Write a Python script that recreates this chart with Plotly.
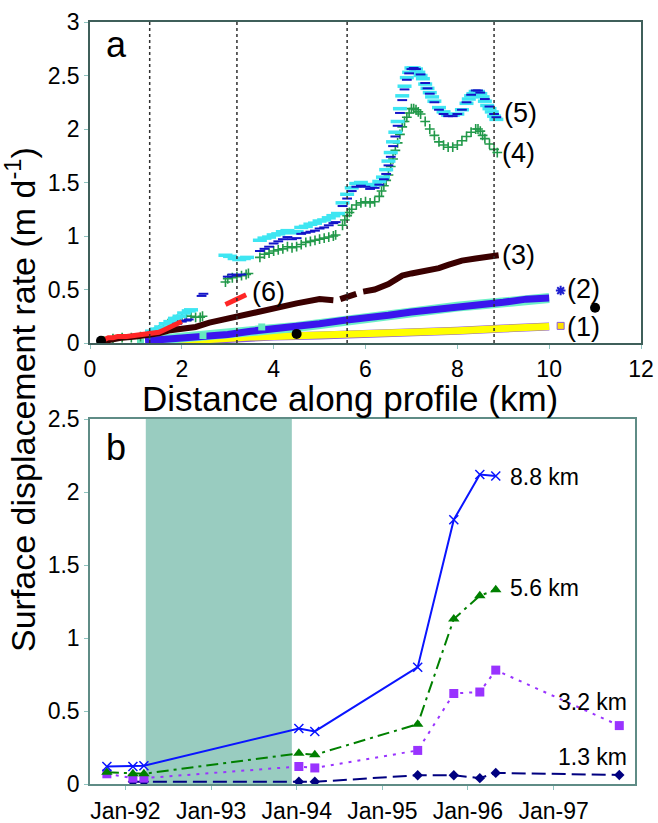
import plotly.graph_objects as go

# ---------------- Panel a : rate along profile ----------------
profile_km = [1.3, 3.2, 5.6, 8.8]

# (1) yellow band
s1_x = [1.3, 2.0, 2.5, 3.0, 3.5, 4.0, 5.0, 6.0, 7.0, 8.0, 9.0, 10.0]
s1_y = [0.0, 0.02, 0.03, 0.045, 0.055, 0.06, 0.07, 0.08, 0.10, 0.115, 0.135, 0.155]
s1_end_x = [10.25]
s1_end_y = [0.16]

# (2) blue band
s2_x = [1.2, 1.5, 2.0, 2.5, 3.0, 3.5, 4.0, 4.5, 5.0, 5.5, 6.0, 6.5, 7.0, 7.5, 8.0, 8.5, 9.0, 9.5, 10.0]
s2_y = [0.02, 0.03, 0.04, 0.06, 0.08, 0.11, 0.13, 0.15, 0.18, 0.21, 0.23, 0.26, 0.29, 0.31, 0.34, 0.36, 0.38, 0.41, 0.42]
s2_end_x = [10.25]
s2_end_y = [0.49]

# (3) dark brown
s3_x = [0.2, 0.4, 0.7, 1.0, 1.3, 1.5, 1.75, 2.0, 2.3, 2.6, 3.0, 3.5, 4.0, 4.5, 5.0, 5.3, None,
        5.45, 5.8, None,
        5.95, 6.2, 6.5, 6.8, 7.0, 7.3, 7.6, 7.8, 8.1, 8.4, 8.7, 8.9]
s3_y = [0.01, 0.03, 0.05, 0.06, 0.07, 0.09, 0.12, 0.14, 0.15, 0.19, 0.23, 0.28, 0.32, 0.37, 0.41, 0.40, None,
        0.41, 0.46, None,
        0.48, 0.50, 0.55, 0.63, 0.65, 0.67, 0.70, 0.73, 0.77, 0.79, 0.81, 0.82]

# (4) green crosses
s4_x = [0.3, 0.5, 0.7, 0.9, 1.1, 1.3, 1.4, 1.5, 1.6, 1.7, 1.8, 1.9, 2.0, 2.1, 2.2, 2.3, 2.4, 2.45,
        2.95, 3.0, 3.1, 3.2, 3.3, 3.4, 3.45,
        3.7, 3.8, 3.9, 4.0, 4.1, 4.2, 4.3, 4.4, 4.5, 4.6, 4.7, 4.8, 4.9, 5.0, 5.1, 5.2, 5.3, 5.35,
        5.5, 5.55, 5.6, 5.65, 5.7, 5.8, 5.9, 6.0, 6.1, 6.2, 6.3, 6.35, 6.4, 6.45, 6.5, 6.55, 6.6,
        6.65, 6.7, 6.75, 6.8, 6.85, 6.9, 6.95, 7.0, 7.05, 7.1, 7.15, 7.2, 7.3, 7.4, 7.5, 7.6, 7.7,
        7.8, 7.9, 8.0, 8.1, 8.2, 8.3, 8.4, 8.45, 8.5, 8.55, 8.6, 8.7, 8.8, 8.87]
s4_y = [0.02, 0.04, 0.05, 0.05, 0.06, 0.08, 0.10, 0.12, 0.15, 0.18, 0.20, 0.22, 0.24, 0.25, 0.25, 0.24, 0.24, 0.25,
        0.57, 0.60, 0.61, 0.62, 0.63, 0.64, 0.65,
        0.80, 0.83, 0.84, 0.86, 0.87, 0.88, 0.90, 0.89, 0.90, 0.92, 0.94, 0.95, 0.96, 0.97, 0.98, 0.99, 1.00, 1.01,
        1.10, 1.15, 1.19, 1.22, 1.25, 1.29, 1.31, 1.32, 1.31, 1.32, 1.37, 1.42, 1.47, 1.52, 1.57, 1.65, 1.72,
        1.80, 1.87, 1.95, 2.02, 2.07, 2.11, 2.15, 2.19, 2.19, 2.18, 2.16, 2.14, 2.07, 2.00, 1.94, 1.88, 1.85,
        1.83, 1.83, 1.85, 1.89, 1.93, 1.97, 2.00, 2.00, 1.98, 1.94, 1.91, 1.86, 1.81, 1.78]

# (5) cyan dashes
s5c_x = [1.35, 1.45, 1.55, 1.65, 1.75, 1.85, 1.95, 2.05, 2.15, 2.2,
         2.95, 3.05, 3.15, 3.25, 3.35, 3.42,
         3.7, 3.8, 3.9, 4.0, 4.1, 4.2, 4.3, 4.4, 4.5, 4.6, 4.7, 4.8, 4.9, 5.0, 5.1, 5.2, 5.3, 5.4,
         5.5, 5.6, 5.7, 5.8, 5.9, 6.0, 6.1, 6.2, 6.3, 6.38, 6.45, 6.5, 6.55, 6.6, 6.65, 6.7, 6.75,
         6.8, 6.85, 6.9, 6.95, 7.0, 7.05, 7.1, 7.15, 7.2, 7.25, 7.3, 7.35, 7.4, 7.45, 7.5, 7.6, 7.7,
         7.8, 7.9, 8.0, 8.1, 8.2, 8.25, 8.3, 8.35, 8.4, 8.45, 8.5, 8.55, 8.6, 8.65, 8.7, 8.75, 8.8, 8.85]
s5c_y = [0.11, 0.13, 0.15, 0.18, 0.20, 0.23, 0.25, 0.28, 0.30, 0.31,
         0.82, 0.81, 0.79, 0.78, 0.79, 0.80,
         0.96, 0.98, 0.99, 1.01, 1.02, 1.04, 1.05, 1.03, 1.04, 1.08, 1.09, 1.11, 1.12, 1.14, 1.15, 1.17, 1.19, 1.21,
         1.31, 1.39, 1.45, 1.49, 1.50, 1.48, 1.47, 1.48, 1.51, 1.55, 1.62, 1.70, 1.78, 1.88, 1.97, 2.07, 2.19,
         2.31, 2.40, 2.48, 2.53, 2.57, 2.57, 2.56, 2.53, 2.50, 2.47, 2.42, 2.38, 2.34, 2.30, 2.26, 2.20, 2.16,
         2.13, 2.13, 2.14, 2.18, 2.24, 2.28, 2.31, 2.33, 2.35, 2.35, 2.33, 2.30, 2.26, 2.22, 2.19, 2.16, 2.12, 2.09]

# (5) blue dashes
s5b_x = [1.7, 1.8, 1.9, 2.0, 2.1, 2.15, 2.43, 2.47,
         3.0, 3.1, 3.2, 3.3,
         3.7, 3.8, 3.9, 4.0, 4.1, 4.2, 4.3, 4.4, 4.5, 4.6, 4.7, 4.8, 4.9, 5.0, 5.1, 5.2, 5.3, 5.35,
         5.5, 5.6, 5.7, 5.8, 5.9, 6.0, 6.1, 6.2, 6.3, 6.4, 6.45, 6.5, 6.55, 6.6, 6.65, 6.7, 6.75,
         6.8, 6.85, 6.9, 6.95, 7.0, 7.05, 7.1, 7.2, 7.3, 7.35, 7.4, 7.5, 7.6, 7.7, 7.8, 7.9, 8.0,
         8.1, 8.2, 8.3, 8.4, 8.45, 8.5, 8.6, 8.7, 8.8, 8.85]
s5b_y = [0.13, 0.15, 0.18, 0.20, 0.21, 0.22, 0.44, 0.46,
         0.62, 0.64, 0.63, 0.64,
         0.86, 0.88, 0.90, 0.93, 0.95, 0.97, 0.99, 0.97, 0.98, 1.02, 1.03, 1.04, 1.05, 1.07, 1.08, 1.10, 1.12, 1.13,
         1.28, 1.35, 1.42, 1.46, 1.47, 1.46, 1.44, 1.45, 1.48, 1.53, 1.58, 1.66, 1.74, 1.84, 1.93, 2.03, 2.15,
         2.27, 2.37, 2.46, 2.52, 2.56, 2.57, 2.56, 2.51, 2.43, 2.38, 2.33, 2.25, 2.18, 2.14, 2.12, 2.12, 2.14,
         2.18, 2.25, 2.32, 2.36, 2.36, 2.34, 2.28, 2.21, 2.14, 2.11]

# (6) red
s6_x = [0.3, 0.4, 0.5, 0.6, 0.8, 1.0, 1.2, 1.4, 1.5, 1.6, 1.7, 1.8, 1.9, 2.0, None, 2.95, 3.1, 3.25, 3.4]
s6_y = [0.03, 0.05, 0.05, 0.06, 0.06, 0.07, 0.08, 0.09, 0.10, 0.12, 0.14, 0.16, 0.18, 0.20, None, 0.36, 0.39, 0.42, 0.45]

aqua_x = [0.3, 1.1, 2.46, 3.74]
aqua_y = [0.01, 0.01, 0.07, 0.15]
black_x = [0.24, 4.5, 11.0]
black_y = [0.02, 0.085, 0.33]

curve_labels = ["(1)", "(2)", "(3)", "(4)", "(5)", "(6)"]
curve_label_x = [10.35, 10.35, 8.93, 8.93, 8.98, 3.49]
curve_label_y = [0.15, 0.505, 0.82, 1.78, 2.15, 0.48]

# ---------------- Panel b : rate through time ----------------
dates = ['1991-10-14', '1992-02-02', '1992-03-20', '1994-01-10', '1994-03-19',
         '1995-06-01', '1995-11-02', '1996-02-21', '1996-04-29', '1997-10-08']
v_88 = [0.12, 0.12, 0.125, 0.38, 0.36, 0.80, 1.81, 2.12, 2.11, None]
v_56 = [0.08, 0.07, 0.07, 0.21, 0.20, 0.41, 1.13, 1.29, 1.33, None]
v_32 = [0.07, 0.04, 0.04, 0.12, 0.11, 0.23, 0.62, 0.63, 0.78, 0.40]
v_13 = [None, 0.015, 0.015, 0.015, 0.015, 0.06, 0.06, 0.04, 0.076, 0.062]
shade_start, shade_end = '1992-03-28', '1993-12-11'
year_ticks = ['1992-01-01', '1993-01-01', '1994-01-01', '1995-01-01', '1996-01-01', '1997-01-01']
year_labels = ['Jan-92', 'Jan-93', 'Jan-94', 'Jan-95', 'Jan-96', 'Jan-97']

W, H = 658, 823
FONT = "Liberation Sans, Arial, sans-serif"

fig = go.Figure()

def add_a(**kw):
    fig.add_trace(go.Scatter(xaxis='x', yaxis='y', showlegend=False, hoverinfo='skip', **kw))

# series 1 (purple rim + yellow)
add_a(x=s1_x, y=s1_y, mode='lines', line=dict(color='#8c5cd8', width=8))
add_a(x=s1_x, y=s1_y, mode='lines', line=dict(color='#ffff00', width=7))
add_a(x=s1_end_x, y=s1_end_y, mode='markers',
      marker=dict(symbol='square', size=7, color='#ffe000', line=dict(color='#8c5cd8', width=1)))
# series 2 (aquamarine rim + blue)
add_a(x=s2_x, y=s2_y, mode='lines', line=dict(color='#6ff0c8', width=10))
add_a(x=s2_x, y=s2_y, mode='lines', line=dict(color='#3a16ee', width=7))
add_a(x=s2_end_x, y=s2_end_y, mode='markers',
      marker=dict(symbol='asterisk', size=8, color='#2020d0', line=dict(color='#2020d0', width=2)))
add_a(x=aqua_x, y=aqua_y, mode='markers', marker=dict(symbol='square', size=7, color='#66e8c0'))
# series 4 (green crosses)
add_a(x=s4_x, y=s4_y, mode='markers',
      marker=dict(symbol='cross-thin', size=7, color='#22994a', line=dict(color='#22994a', width=1.6)))
# series 5 (cyan + blue dashes)
add_a(x=s5c_x, y=s5c_y, mode='markers',
      marker=dict(symbol='line-ew', size=10, color='#3ee6f2', line=dict(color='#3ee6f2', width=3.5)))
add_a(x=s5b_x, y=s5b_y, mode='markers',
      marker=dict(symbol='line-ew', size=7, color='#1414c8', line=dict(color='#1414c8', width=2)))
# series 3 (brown)
add_a(x=s3_x, y=s3_y, mode='lines', line=dict(color='#3a0000', width=6), connectgaps=False)
# series 6 (red)
add_a(x=s6_x, y=s6_y, mode='lines', line=dict(color='#ff2626', width=5), connectgaps=False)
# black dots
add_a(x=black_x, y=black_y, mode='markers', marker=dict(symbol='circle', size=10, color='black'))

# panel b traces
def add_b(**kw):
    fig.add_trace(go.Scatter(xaxis='x2', yaxis='y2', showlegend=False, hoverinfo='skip', **kw))

add_b(x=dates, y=v_13, mode='lines+markers', connectgaps=True,
      line=dict(color='#000080', width=2, dash='14px,6px'),
      marker=dict(symbol='diamond', size=8, color='#000080'))
add_b(x=dates, y=v_32, mode='lines+markers', connectgaps=True,
      line=dict(color='#9933ff', width=2, dash='3px,6px'),
      marker=dict(symbol='square', size=9, color='#9933ff'))
add_b(x=dates, y=v_56, mode='lines+markers', connectgaps=True,
      line=dict(color='#008000', width=2, dash='12px,5px,3px,5px'),
      marker=dict(symbol='triangle-up', size=10, color='#008000'))
add_b(x=dates, y=v_88, mode='lines+markers', connectgaps=True,
      line=dict(color='#0a14ff', width=2),
      marker=dict(symbol='x-thin', size=9, color='#0a14ff', line=dict(color='#0a14ff', width=1.5)))

shapes = []
for xv in profile_km:
    shapes.append(dict(type='line', xref='x', yref='y', x0=xv, x1=xv, y0=0, y1=3,
                       line=dict(color='#303030', width=1.5, dash='dot'), layer='above'))
shapes.append(dict(type='rect', xref='x2', yref='y2', x0=shade_start, x1=shade_end, y0=0, y1=2.5,
                   fillcolor='#99ccc0', line=dict(width=0), layer='below'))

annotations = []
for t, xv, yv in zip(curve_labels, curve_label_x, curve_label_y):
    annotations.append(dict(text=t, x=xv, y=yv, xref='x', yref='y', xanchor='left', yanchor='middle',
                            showarrow=False, font=dict(size=27, color='black', family=FONT)))
annotations += [
    dict(text='8.8 km', x=508 / W, y=2.10, xref='paper', yref='y2', xanchor='left', yanchor='middle',
         showarrow=False, font=dict(size=23, family=FONT, color='black')),
    dict(text='5.6 km', x=508 / W, y=1.34, xref='paper', yref='y2', xanchor='left', yanchor='middle',
         showarrow=False, font=dict(size=23, family=FONT, color='black')),
    dict(text='3.2 km', x=629 / W, y=0.56, xref='paper', yref='y2', xanchor='right', yanchor='middle',
         showarrow=False, font=dict(size=23, family=FONT, color='black')),
    dict(text='1.3 km', x=629 / W, y=0.185, xref='paper', yref='y2', xanchor='right', yanchor='middle',
         showarrow=False, font=dict(size=23, family=FONT, color='black')),
    dict(text='a', x=116 / W, y=1 - 45 / H, xref='paper', yref='paper', xanchor='center', yanchor='middle',
         showarrow=False, font=dict(size=36, family=FONT, color='black')),
    dict(text='b', x=116 / W, y=1 - 447 / H, xref='paper', yref='paper', xanchor='center', yanchor='middle',
         showarrow=False, font=dict(size=36, family=FONT, color='black')),
    dict(text='Distance along profile (km)', x=350 / W, y=1 - 398 / H, xref='paper', yref='paper',
         xanchor='center', yanchor='middle', showarrow=False, font=dict(size=35, family=FONT, color='black')),
    dict(text='Surface displacement rate (m d<sup>-1</sup>)', x=20 / W, y=1 - 400 / H, xref='paper',
         yref='paper', xanchor='center', yanchor='middle', textangle=-90, showarrow=False,
         font=dict(size=34, family=FONT, color='black')),
]

axis_common = dict(showgrid=False, zeroline=False, showline=True, mirror=True, ticks='outside',
                   automargin=False, ticklen=4, tickwidth=1, tickcolor='#8fc4c0',
                   tickfont=dict(size=23, family=FONT, color='black'))

fig.update_layout(
    width=W, height=H, margin=dict(l=0, r=0, t=0, b=0, autoexpand=False),
    paper_bgcolor='white', plot_bgcolor='white', showlegend=False,
    font=dict(family=FONT, size=21, color='black'),
    xaxis=dict(domain=[90 / W, 641 / W], anchor='y', range=[0, 12], tickvals=[0, 2, 4, 6, 8, 10, 12],
               linecolor='#3f5f5a', linewidth=1.5, ticklabelstandoff=1, **axis_common),
    yaxis=dict(domain=[1 - 343 / H, 1 - 22 / H], anchor='x', range=[0, 3], dtick=0.5,
               linecolor='#3f5f5a', linewidth=1.5, **axis_common),
    xaxis2=dict(domain=[90 / W, 635 / W], anchor='y2', type='date',
                range=['1991-08-03', '1997-12-14'], tickvals=year_ticks, ticktext=year_labels,
                linecolor='#5f8c86', linewidth=1.5, ticklabelstandoff=2, **axis_common),
    yaxis2=dict(domain=[1 - 784 / H, 1 - 419 / H], anchor='x2', range=[0, 2.5], dtick=0.5,
                linecolor='#5f8c86', linewidth=1.5, **axis_common),
    shapes=shapes, annotations=annotations,
)

fig.write_html("out.html", config={'displayModeBar': False},
               post_script="document.body.style.margin='0';document.body.style.overflow='hidden';")
